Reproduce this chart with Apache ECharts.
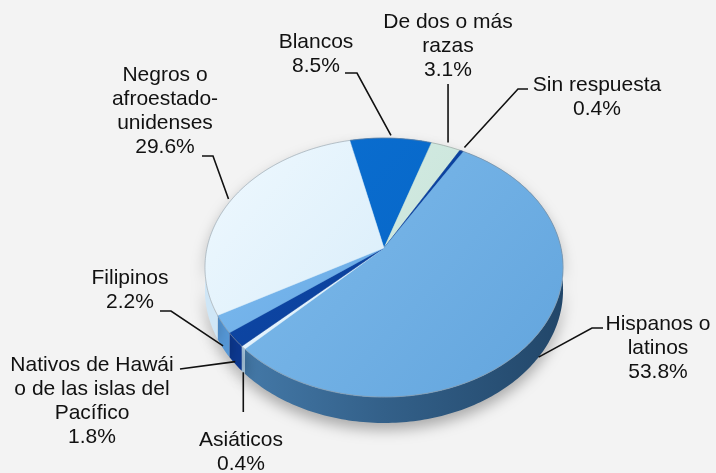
<!DOCTYPE html>
<html>
<head>
<meta charset="utf-8">
<script src="https://cdn.jsdelivr.net/npm/echarts@6/dist/echarts.min.js"></script>
<style>
html, body { margin: 0; background: #f3f3f3; }
#main { width: 716px; height: 473px; }
</style>
</head>
<body>
<div id="main"></div>
<script>
// datos: composición por raza / etnia
var groups = ['Blancos', 'De dos o más\nrazas', 'Sin respuesta', 'Hispanos o\nlatinos', 'Asiáticos',
    'Nativos de Hawái\no de las islas del\nPacífico', 'Filipinos', 'Negros o\nafroestado-\nunidenses'];
var shares = [8.5, 3.1, 0.4, 53.8, 0.4, 1.8, 2.2, 29.6];

// colores cara superior [claro, base] y lateral [claro, oscuro]
var topColors = [['#0b70d2', '#0562c3'], ['#d8eee6', '#c3e0d5'], ['#0c48aa', '#0a3c95'], ['#80bcec', '#64a6de'],
    ['#eef8ff', '#d3eaf9'], ['#0e4aaa', '#0a3a92'], ['#80bdf0', '#5b9fdf'], ['#eef8fe', '#cde7f8']];
var sideColors = [['#0560b8', '#04509e'], ['#b5d4c8', '#a9c8bc'], ['#0a3a8a', '#082f78'], ['#4479a8', '#22476a'],
    ['#a8c8e2', '#9fc0dc'], ['#0c3890', '#092c70'], ['#5597d6', '#4a8ac6'], ['#cfe6f6', '#b7d9f1']];

// posición de etiquetas y guías
var labelLayout = [
    { x: 316, y: 30, line: [[345, 73], [357, 73]], r: 1.03, d: 0 },
    { x: 448, y: 10, vertical: 84, r: 1.04, d: 0 },
    { x: 597, y: 73, line: [[528, 89], [518, 89]], r: 1.04, d: 0 },
    { x: 658, y: 312, line: [[603, 328], [592, 328]], r: 1.0, d: 1 },
    { x: 241, y: 428, vertical: 412, r: 1.0, d: 1 },
    { x: 92, y: 353, line: [[180, 369]], r: 1.0, d: 0.9 },
    { x: 130, y: 266, line: [[160, 311], [171, 311]], r: 1.0, d: 0.9 },
    { x: 165, y: 63, line: [[202, 156], [213, 156]], r: 1.02, d: 0 }
];

var cx = 384, cy = 248, S = 177, T = 0.715, K = 0.151, DEPTH = 22;
var START = -12.8;

function proj(deg, r, down) {
    var a = deg * Math.PI / 180;
    var u = r * Math.sin(a), v = r * Math.cos(a);
    var w = 1 + K * v;
    return [cx + S * u / w, cy - S * T * v / w + (down ? DEPTH * down / w : 0)];
}

var total = shares.reduce(function (s, v) { return s + v; }, 0);
var starts = [];
var acc = START;
shares.forEach(function (v) { starts.push(acc); acc += v / total * 360; });

function arc(a0, a1, r, down) {
    var pts = [];
    var n = Math.max(2, Math.ceil((a1 - a0) / 1));
    for (var i = 0; i <= n; i++) pts.push(proj(a0 + (a1 - a0) * i / n, r, down));
    return pts;
}

var myChart = echarts.init(document.getElementById('main'));

function renderItem(params, api) {
    var i = params.dataIndex;
    var val = api.value(0);
    var a0 = starts[i], a1 = a0 + val / total * 360;
    var rim = arc(a0, a1, 1, 0);
    var bottom = arc(a0, a1, 1, 1).reverse();
    var children = [];

    // lateral
    children.push({
        type: 'polygon', z2: 1,
        shape: { points: rim.concat(bottom) },
        style: {
            fill: new echarts.graphic.LinearGradient(240, 0, 560, 0, [
                { offset: 0, color: sideColors[i][0] },
                { offset: 0.45, color: echarts.color.lerp(0.5, sideColors[i]) },
                { offset: 1, color: sideColors[i][1] }
            ], true),
            shadowBlur: 14, shadowColor: 'rgba(0,0,0,0.3)', shadowOffsetY: 7
        }
    });
    // cara superior
    children.push({
        type: 'polygon', z2: 5,
        shape: { points: [[cx, cy]].concat(rim) },
        style: {
            fill: new echarts.graphic.LinearGradient(220, 140, 520, 400, [
                { offset: 0, color: topColors[i][0] },
                { offset: 1, color: topColors[i][1] }
            ], true),
            stroke: topColors[i][1], lineWidth: 0.5
        }
    });
    children.push({
        type: 'polyline', z2: 6,
        shape: { points: rim },
        style: { stroke: 'rgba(150,150,150,0.5)', lineWidth: 1, fill: null }
    });

    var lay = labelLayout[i];
    var mid = (a0 + a1) / 2;
    var anchor = proj(mid, lay.r, lay.d);
    var pts;
    if (lay.vertical) {
        pts = [[anchor[0], lay.vertical], anchor];
    } else {
        pts = lay.line.concat([anchor]);
    }
    children.push({
        type: 'polyline', z2: 20,
        shape: { points: pts },
        style: { stroke: '#111', lineWidth: 1.6, fill: null }
    });
    children.push({
        type: 'text', z2: 20,
        x: lay.x, y: lay.y,
        style: {
            text: groups[i] + '\n' + val.toFixed(1) + '%',
            font: '21px "Liberation Sans", Arial, sans-serif',
            fill: '#111', align: 'center', verticalAlign: 'top', lineHeight: 24
        }
    });
    return { type: 'group', children: children };
}

var option = {
    backgroundColor: '#f3f3f3',
    animation: false,
    series: [{
        type: 'custom',
        coordinateSystem: 'none',
        renderItem: renderItem,
        data: shares.map(function (v, i) { return [v, i]; })
    }]
};
myChart.setOption(option);

window.addEventListener('resize', function () {
    myChart.resize();
});
</script>
</body>
</html>
